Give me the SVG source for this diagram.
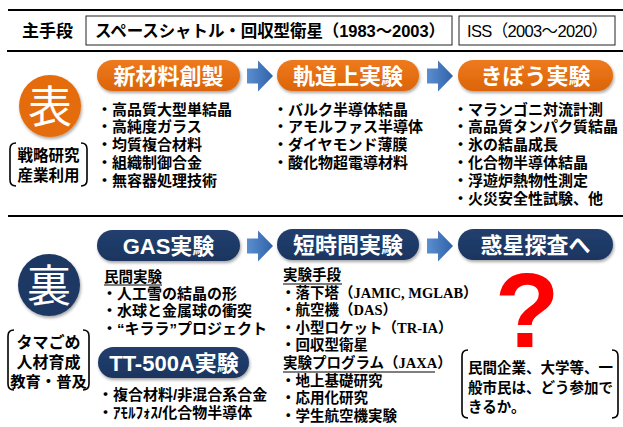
<svg xmlns="http://www.w3.org/2000/svg" width="623" height="427" viewBox="0 0 623 427">
<defs>
<style>
.t{font-family:"Liberation Sans","Noto Sans CJK JP",sans-serif;font-weight:bold;fill:#000}
.b{font-size:15px}
.s{font-size:14.5px}
.pt{font-family:"Liberation Sans","Noto Sans CJK JP",sans-serif;font-weight:bold;font-size:22px;fill:#fff;text-anchor:middle}
.ser{font-family:"Liberation Serif","Noto Sans CJK JP",serif}
.ln{stroke:#000;stroke-width:2}
.brk{fill:none;stroke:#000;stroke-width:1.6}
.hb{fill:#fff;stroke:#222;stroke-width:1}
.ul{stroke:#000;stroke-width:1.2}
</style>
<linearGradient id="gO" x1="0" y1="0" x2="0" y2="1"><stop offset="0" stop-color="#EE7A1E"/><stop offset="1" stop-color="#DC6408"/></linearGradient>
<linearGradient id="gN" x1="0" y1="0" x2="0" y2="1"><stop offset="0" stop-color="#223F6E"/><stop offset="1" stop-color="#1A3560"/></linearGradient>
<linearGradient id="gA" x1="0" y1="0" x2="1" y2="0"><stop offset="0" stop-color="#5B8FD0"/><stop offset="1" stop-color="#2F62A8"/></linearGradient>
<filter id="sh" x="-10%" y="-20%" width="120%" height="150%"><feDropShadow dx="1" dy="2" stdDeviation="1.5" flood-color="#000" flood-opacity="0.35"/></filter>
<path id="arr" d="M0,-7.5 H11 V-15.5 L26,0 L11,15.5 V7.5 H0 Z" fill="url(#gA)"/>
</defs>

<!-- rules -->
<line class="ln" x1="8" y1="10" x2="623" y2="10"/>
<line class="ln" x1="7" y1="51" x2="623" y2="51"/>
<line class="ln" x1="8" y1="216" x2="623" y2="216"/>

<!-- header -->
<g id="header">
<text class="t" x="22" y="37" font-size="17">主手段</text>
<rect class="hb" x="86" y="16" width="366" height="29"/>
<text class="t" x="95" y="36.7" font-size="16.5" textLength="350">スペースシャトル・回収型衛星<tspan style="font-weight:600">（1983〜2003）</tspan></text>
<rect class="hb" x="459" y="16" width="156" height="29"/>
<text class="t" x="467" y="36.7" style="font-weight:normal;font-size:16.5px" textLength="141">ISS（2003〜2020）</text>
</g>

<!-- connectors -->
<g id="connectors">
<use href="#arr" x="247" y="76"/>
<use href="#arr" x="427" y="76"/>
<use href="#arr" x="247" y="246"/>
<use href="#arr" x="427" y="246"/>
</g>

<!-- upper side -->
<g id="omote">
<circle cx="50" cy="106" r="31" fill="#E46C0A" filter="url(#sh)"/>
<text x="50" y="122.5" text-anchor="middle" font-family="'Noto Sans CJK JP',sans-serif" font-size="44" fill="#fff">表</text>
</g>
<g id="omote-label">
<path class="brk" d="M16,143 Q10,143 10,149 V180 Q10,186 16,186"/>
<path class="brk" d="M81,143 Q87,143 87,149 V180 Q87,186 81,186"/>
<text class="t" x="48.5" y="160.5" font-size="15.5" text-anchor="middle">戦略研究</text>
<text class="t" x="48.5" y="180.5" font-size="15.5" text-anchor="middle">産業利用</text>
</g>

<g id="n-shinzairyo">
<rect x="97" y="60" width="143" height="31" rx="15.5" fill="url(#gO)" filter="url(#sh)"/>
<text class="pt" x="168.5" y="84">新材料創製</text>
</g>
<g id="n-kidojo">
<rect x="277" y="60" width="142" height="31" rx="15.5" fill="url(#gO)" filter="url(#sh)"/>
<text class="pt" x="348" y="84">軌道上実験</text>
</g>
<g id="n-kibo">
<rect x="458" y="60" width="155" height="31" rx="15.5" fill="url(#gO)" filter="url(#sh)"/>
<text class="pt" x="535.5" y="84">きぼう実験</text>
</g>

<g id="list-shinzairyo" class="t b">
<text x="97" y="114.5">・高品質大型単結晶</text>
<text x="97" y="132.3">・高純度ガラス</text>
<text x="97" y="150.1">・均質複合材料</text>
<text x="97" y="167.9">・組織制御合金</text>
<text x="97" y="185.7">・無容器処理技術</text>
</g>
<g id="list-kidojo" class="t b">
<text x="273" y="114.5">・バルク半導体結晶</text>
<text x="273" y="132.3">・アモルファス半導体</text>
<text x="273" y="150.1">・ダイヤモンド薄膜</text>
<text x="273" y="167.9">・酸化物超電導材料</text>
</g>
<g id="list-kibo" class="t b">
<text x="453" y="114.5">・マランゴニ対流計測</text>
<text x="453" y="132.3">・高品質タンパク質結晶</text>
<text x="453" y="150.1">・氷の結晶成長</text>
<text x="453" y="167.9">・化合物半導体結晶</text>
<text x="453" y="185.7">・浮遊炉熱物性測定</text>
<text x="453" y="203.5">・火災安全性試験、他</text>
</g>

<!-- lower side -->
<g id="ura">
<circle cx="49" cy="285" r="31" fill="#1F3864" filter="url(#sh)"/>
<text x="49" y="301.5" text-anchor="middle" font-family="'Noto Sans CJK JP',sans-serif" font-size="44" fill="#fff">裏</text>
</g>
<g id="ura-label">
<path class="brk" d="M14,330 Q8,330 8,336 V384 Q8,390 14,390"/>
<path class="brk" d="M83,330 Q89,330 89,336 V384 Q89,390 83,390"/>
<text class="t" x="48.5" y="347.5" font-size="16" text-anchor="middle">タマごめ</text>
<text class="t" x="48.5" y="367.5" font-size="16" text-anchor="middle">人材育成</text>
<text class="t" x="48.5" y="387" font-size="15.3" text-anchor="middle">教育・普及</text>
</g>

<g id="n-gas">
<rect x="97" y="230" width="143" height="31" rx="15.5" fill="url(#gN)" filter="url(#sh)"/>
<text class="pt" x="168.5" y="253.5">GAS実験</text>
</g>
<g id="n-tanjikan">
<rect x="277" y="229" width="142" height="31" rx="15.5" fill="url(#gN)" filter="url(#sh)"/>
<text class="pt" x="348" y="253">短時間実験</text>
</g>
<g id="n-wakusei">
<rect x="458" y="229" width="155" height="31" rx="15.5" fill="url(#gN)" filter="url(#sh)"/>
<text class="pt" x="535.5" y="253">惑星探査へ</text>
</g>
<g id="n-tt500a">
<rect x="98" y="347" width="151" height="31" rx="15.5" fill="url(#gN)" filter="url(#sh)"/>
<text class="pt" x="174" y="371">TT-500A実験</text>
</g>

<g id="list-gas" class="t s">
<text x="104" y="281.5">民間実験</text>
<line class="ul" x1="104" y1="285" x2="162" y2="285"/>
<text x="102" y="298.5" font-size="15">・人工雪の結晶の形</text>
<text x="102" y="316" font-size="15">・水球と金属球の衝突</text>
<text x="102" y="333.5" font-size="15">・“キララ”プロジェクト</text>
</g>
<g id="list-tt500a" class="t b">
<text x="98" y="400">・複合材料/非混合系合金</text>
<text x="98" y="418">・ｱﾓﾙﾌｫｽ/化合物半導体</text>
</g>
<g id="list-tanjikan" class="t s">
<text x="283" y="280">実験手段</text>
<line class="ul" x1="283" y1="284" x2="342" y2="284"/>
<text x="281" y="297.5">・落下塔<tspan class="ser">（JAMIC, MGLAB）</tspan></text>
<text x="281" y="315">・航空機<tspan class="ser">（DAS）</tspan></text>
<text x="281" y="332.7">・小型ロケット<tspan class="ser">（TR-IA）</tspan></text>
<text x="281" y="350.4">・回収型衛星</text>
<text x="283" y="368">実験プログラム<tspan class="ser">（JAXA）</tspan></text>
<line class="ul" x1="283" y1="372" x2="435" y2="372"/>
<text x="281" y="385.5">・地上基礎研究</text>
<text x="281" y="403">・応用化研究</text>
<text x="281" y="420.5">・学生航空機実験</text>
</g>

<g id="question">
<text x="527" y="347" text-anchor="middle" font-family="'Liberation Sans',sans-serif" font-weight="bold" font-size="106" fill="#FF0000">?</text>
</g>
<g id="note">
<path class="brk" d="M468,350 Q462,350 462,356 V412 Q462,418 468,418"/>
<path class="brk" d="M612,350 Q618,350 618,356 V412 Q618,418 612,418"/>
<text class="t s" x="468" y="373">民間企業、大学等、一</text>
<text class="t s" x="468" y="393">般市民は、どう参加で</text>
<text class="t s" x="468" y="412">きるか。</text>
</g>
</svg>
